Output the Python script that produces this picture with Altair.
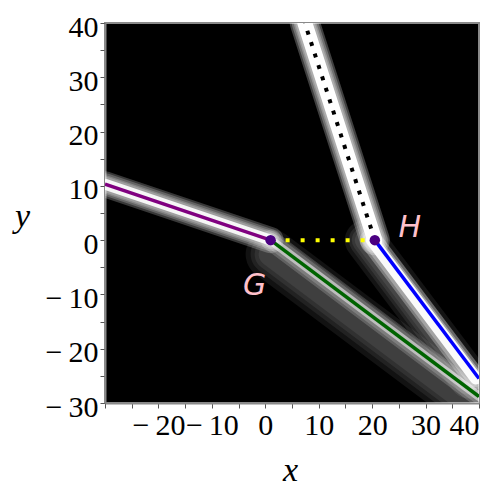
import altair as alt
import pandas as pd

# segment endpoints
seg_names = ["purple", "green", "yellow", "blue", "black"]
seg_x0 = [-30.0, 1.0, 1.0, 20.5, 20.5]
seg_y0 = [10.3, 0.0, 0.0, 0.0, 0.0]
seg_x1 = [1.0, 40.0, 20.5, 40.0, 7.4]
seg_y1 = [0.0, -28.8, 0.0, -25.5, 40.0]

pt_names = ["G", "H"]
pt_x = [1.0, 20.5]
pt_y = [0.0, 0.0]

tick_vals = list(range(-30, 45, 5))

def seg_df(i):
    return pd.DataFrame({"x": [seg_x0[i], seg_x1[i]], "y": [seg_y0[i], seg_y1[i]], "o": [0, 1]})

xs = alt.Scale(domain=[-30, 40], nice=False, zero=False)
ys = alt.Scale(domain=[-30, 40], nice=False, zero=False)

lbl = "(datum.value < 0 ? '\u2212\u2009' + format(abs(datum.value), 'd') : format(datum.value, 'd'))"
common = dict(grid=False, titleAngle=0, labelFont="Liberation Serif", labelFontSize=30,
              labelColor="black", domainColor="#8a8a8a", domainWidth=2, tickColor="#555",
              tickSize=5, labelPadding=2, labelOverlap=False, titleFont="Liberation Serif",
              titleFontStyle="italic", titleFontSize=34, titleFontWeight="normal", titleColor="black")
xaxis = alt.Axis(values=tick_vals, title="x",
                 labelExpr="(datum.value % 10 != 0 || datum.value == -30) ? '' : " + lbl,
                 titleX=185, titleY=50, titleBaseline="top", **common)
yaxis = alt.Axis(values=tick_vals, title="y", labelOffset=4,
                 labelExpr="(datum.value % 10 != 0) ? '' : " + lbl,
                 titleX=-83, titleY=210, **common)

XE = alt.X("x:Q", scale=xs, axis=xaxis)
YE = alt.Y("y:Q", scale=ys, axis=yaxis)

def line(i, color, width, opacity=1.0, dash=None, xo=0, yo=0, cap="butt"):
    kw = dict(color=color, strokeWidth=width, opacity=opacity, clip=True, strokeCap=cap)
    if dash:
        kw["strokeDash"] = dash
    if xo:
        kw["xOffset"] = xo
    if yo:
        kw["yOffset"] = yo
    return alt.Chart(seg_df(i)).mark_line(**kw).encode(x=XE, y=YE, order="o:Q")

def glow(i, widths, opacity, xo=0, yo=0, cap="round"):
    return [line(i, "white", w, opacity, xo=xo, yo=yo, cap=cap) for w in widths]

layers = []
# green: broad grey smear, mostly below
layers += glow(1, [50, 40, 32, 24], 0.07, yo=14)
layers += glow(1, [20, 15], 0.18)
layers += glow(1, [9], 0.5)
# purple halo
layers += glow(0, [26, 22, 18, 15], 0.22)
layers += glow(0, [11], 0.9)
# blue halo, brighter on the left side
layers += glow(3, [40, 32, 26, 20], 0.08, xo=-10)
layers += glow(3, [22, 17], 0.3, xo=-4)
layers += glow(3, [12], 0.95, xo=-3)
# black dotted line halo
layers += glow(4, [30, 26, 22, 19], 0.25)
layers += glow(4, [15], 1.0)

# actual lines
layers += [line(0, "#800080", 3.5), line(1, "#006400", 3.5),
           line(2, "#ffff00", 4, dash=[4, 11]), line(3, "#0000ff", 3.5),
           line(4, "#000000", 4, dash=[4, 8])]

pts = pd.DataFrame({"name": pt_names, "x": pt_x, "y": pt_y})
layers.append(alt.Chart(pts).mark_circle(size=110, color="#4b0082", opacity=1).encode(x=XE, y=YE))

layers.append(alt.Chart(pts.iloc[[0]]).mark_text(font="DejaVu Sans", fontSize=30, fontStyle="italic",
                                                 color="#ffc0cb", dx=-16, dy=46).encode(
    x=XE, y=YE, text="name:N"))
layers.append(alt.Chart(pts.iloc[[1]]).mark_text(font="DejaVu Sans", fontSize=30, fontStyle="italic",
                                                 color="#ffc0cb", dx=35, dy=-12).encode(
    x=XE, y=YE, text="name:N"))

chart = alt.layer(*layers).properties(
    width=374, height=380,
    background="white",
    autosize=alt.AutoSizeParams(type="none"),
    padding={"left": 97, "top": 15, "right": 13, "bottom": 89},
).configure_view(fill="black", stroke="#8a8a8a", strokeWidth=2)

chart.save("out.html", embed_options={"renderer": "svg", "actions": False})
